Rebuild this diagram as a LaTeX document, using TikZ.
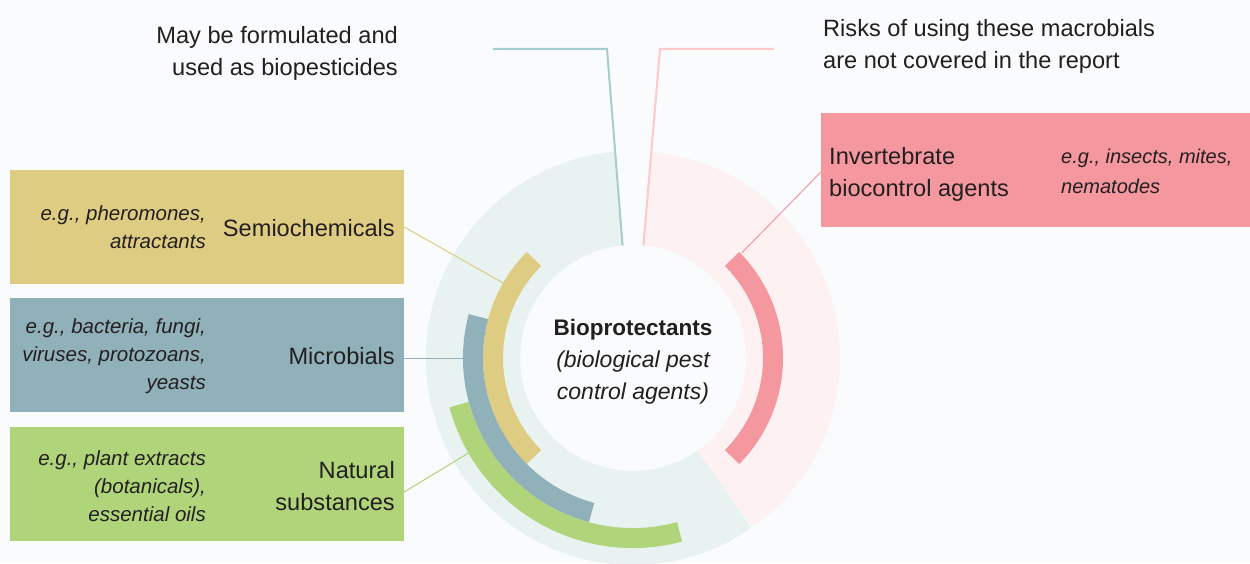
\documentclass[tikz,border=0pt]{standalone}
\usepackage{fontspec}
\setmainfont{Liberation Sans}
\usepackage{tikz}
\usetikzlibrary{calc}
\usepackage{xcolor}

\definecolor{paper}{HTML}{F9FBFC}
\definecolor{ink}{HTML}{231F20}
\definecolor{ringteal}{HTML}{E8F2F1}
\definecolor{ringpink}{HTML}{FEF1F2}
\definecolor{semiofill}{HTML}{DFCC83}
\definecolor{microfill}{HTML}{91B1BA}
\definecolor{naturalfill}{HTML}{B0D47A}
\definecolor{invertfill}{HTML}{F4979F}
\definecolor{tealline}{HTML}{A5CDCE}
\definecolor{pinkline}{HTML}{FFC8CB}

\newcommand{\lblfont}{\fontsize{23.6}{32}\selectfont}
\newcommand{\exfont}{\fontsize{20.5}{28}\selectfont\itshape}

\begin{document}
\begin{tikzpicture}[x=1pt, y=1pt,
    every node/.style={text=ink, inner sep=0pt},
    catbox/.style={minimum width=394, minimum height=114},
    band/.style={line width=20}]
   \fill[paper] (0,0) rectangle (1250,563);
   \useasboundingbox (0,0) rectangle (1250,563);
   \coordinate (C) at (633,205);

   % background rings
   \draw[ringteal, line width=94] ($(C)+(95:160)$) arc[start angle=95, end angle=305, radius=160];
   \draw[ringpink, line width=94] ($(C)+(85:160)$) arc[start angle=85, end angle=-55, radius=160];

   % category bands
   \draw[band, semiofill] ($(C)+(135:140)$) arc[start angle=135, end angle=225, radius=140];
   \draw[band, microfill] ($(C)+(165:160)$) arc[start angle=165, end angle=255, radius=160];
   \draw[band, naturalfill] ($(C)+(195:180)$) arc[start angle=195, end angle=285, radius=180];
   \draw[band, invertfill] ($(C)+(-45:140)$) arc[start angle=-45, end angle=45, radius=140];

   % boxes
   \node[catbox, fill=semiofill] (semio) at (207,336) {};
   \node[catbox, fill=microfill] (micro) at (207,208) {};
   \node[catbox, fill=naturalfill] (natural) at (207,79) {};
   \node[minimum width=429, minimum height=114, fill=invertfill] (invert) at (1035.5,393) {};

   \node[anchor=east, font=\lblfont] (semiolab) at (395,335) {Semiochemicals};
   \node[anchor=east, align=right, font=\exfont] (semioex) at (206,336) {e.g., pheromones,\\attractants};
   \node[anchor=east, font=\lblfont] (microlab) at (395,207) {Microbials};
   \node[anchor=east, align=right, font=\exfont] (microex) at (206,207) {e.g., bacteria, fungi,\\viruses, protozoans,\\yeasts};
   \node[anchor=east, align=right, font=\lblfont] (naturallab) at (395,77) {Natural\\substances};
   \node[anchor=east, align=right, font=\exfont] (naturalex) at (206,77) {e.g., plant extracts\\(botanicals),\\essential oils};
   \node[anchor=west, align=left, font=\lblfont] (invertlab) at (829,389) {Invertebrate\\biocontrol agents};
   \node[anchor=west, align=left, font=\fontsize{20}{30}\selectfont\itshape] (invertex) at (1061,392) {e.g., insects, mites,\\nematodes};

   % centre
   \node[align=center, font=\fontsize{23}{32}\selectfont] (core) at (633,201) {{\fontsize{22.5}{32}\selectfont\bfseries Bioprotectants}\\\itshape(biological pest\\\itshape control agents)};

   % top notes
   \node[anchor=east, align=right, font=\lblfont] (formnote) at (398,510) {May be formulated and\\used as biopesticides};
   \node[anchor=west, align=left, font=\lblfont] (risknote) at (823,517) {Risks of using these macrobials\\are not covered in the report};

   % leader lines
   \coordinate (semioend) at ($(C)+(150:150)$);
   \coordinate (microend) at ($(C)+(180:170)$);
   \coordinate (naturalend) at ($(C)+(210:190)$);
   \coordinate (invertend) at ($(C)+(44:151)$);
   \draw[semiofill, line width=1] (semio.east) -- (semioend);
   \draw[microfill, line width=1] (micro.east |- microend) -- (microend);
   \draw[naturalfill, line width=1] ($(natural.east)+(0,-8)$) -- (naturalend);
   \draw[invertfill, line width=1] ($(invert.west)+(0,-2)$) -- (invertend);

   \coordinate (tealstart) at (493,514);
   \coordinate (pinkstart) at (774,514);
   \draw[tealline, line width=2] (tealstart) -- (607,514) -- ($(C)+(95.3:113)$);
   \draw[pinkline, line width=2] (pinkstart) -- (660,514) -- ($(C)+(84.7:113)$);
\end{tikzpicture}
\end{document}
